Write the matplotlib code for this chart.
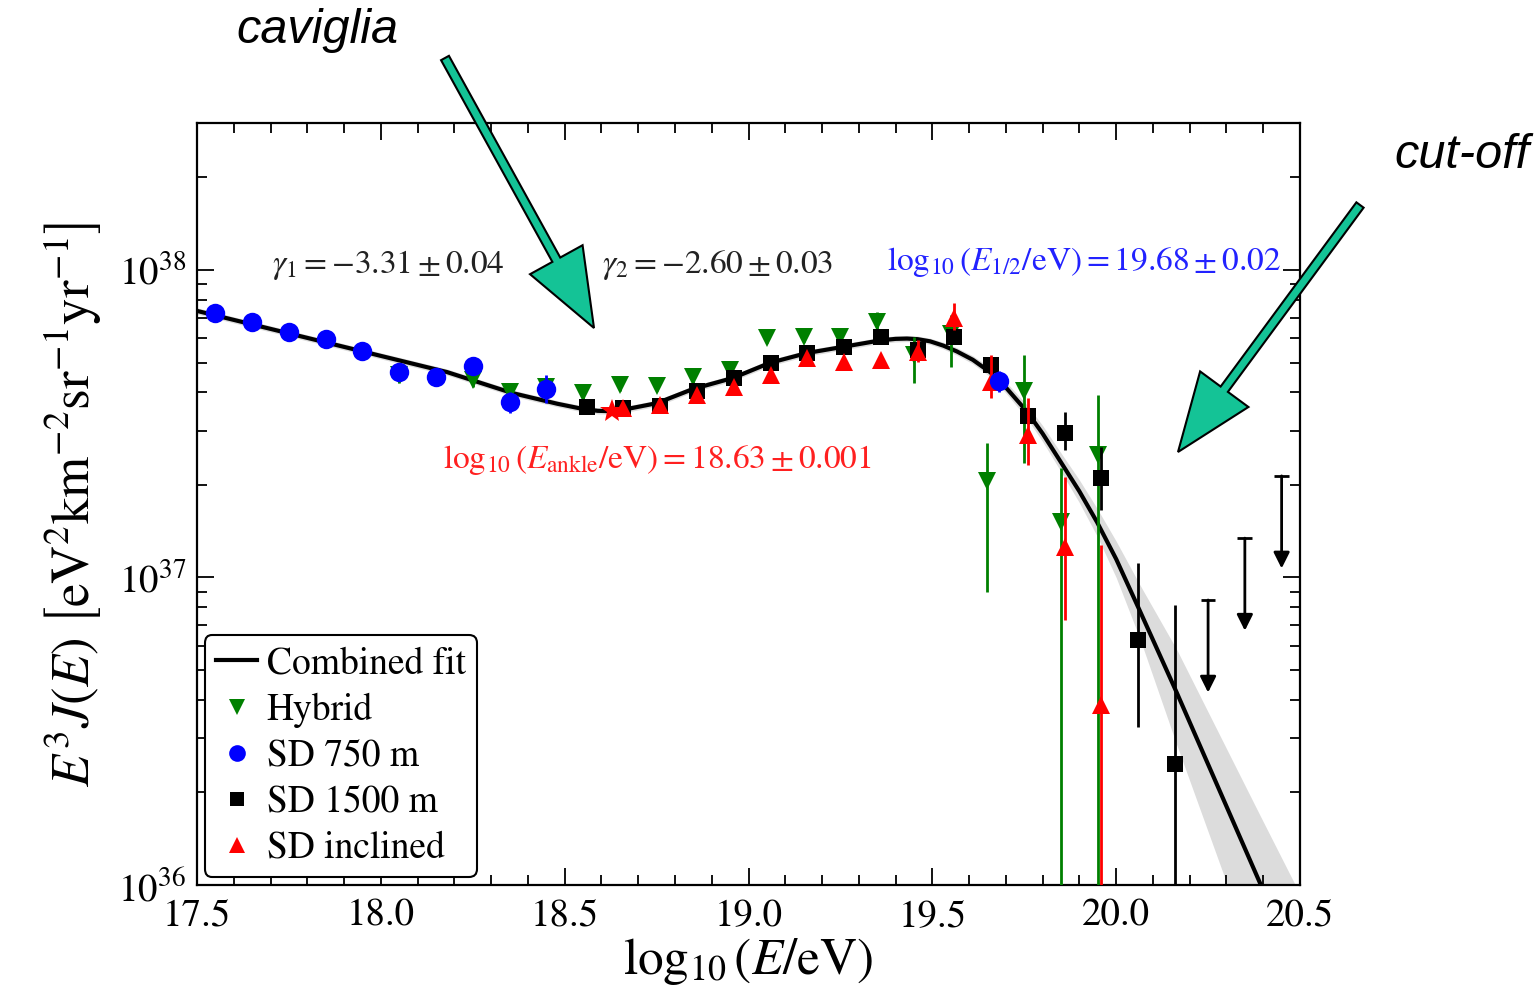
import numpy as np
import matplotlib
matplotlib.use("Agg")
import matplotlib.pyplot as plt
from matplotlib.lines import Line2D
from matplotlib.patches import FancyArrow
from matplotlib.ticker import FormatStrFormatter, MultipleLocator, LogLocator

plt.rcParams['font.family'] = ['STIXGeneral', 'DejaVu Serif']
plt.rcParams['mathtext.fontset'] = 'stix'

# ---------------- data (flux values in units of 1e37 eV^2 km^-2 sr^-1 yr^-1) ----------------
hyb_x = [18.05, 18.25, 18.35, 18.45, 18.55, 18.65, 18.75, 18.85, 18.95, 19.05, 19.15, 19.25,
         19.35, 19.45, 19.55, 19.65, 19.75, 19.85, 19.95]
hyb_v = [4.55, 4.39, 4.01, 4.17, 3.98, 4.23, 4.20, 4.49, 4.73, 6.01, 6.06, 6.06,
         6.78, 5.29, 6.19, 2.06, 4.04, 1.515, 2.50]
hyb_lo = [4.30, 4.15, 3.80, 3.97, 3.80, 4.05, 4.03, 4.30, 4.52, 5.80, 5.85, 5.85,
          6.28, 4.29, 4.84, 0.897, 2.36, 0.05, 0.05]
hyb_hi = [4.80, 4.62, 4.22, 4.38, 4.16, 4.42, 4.38, 4.70, 4.95, 6.25, 6.30, 6.30,
          7.30, 6.06, 7.14, 2.737, 5.29, 2.27, 3.92]

sd750_x = [17.55, 17.65, 17.75, 17.85, 17.95, 18.05, 18.15, 18.25, 18.35, 18.45, 19.68]
sd750_v = [7.24, 6.78, 6.28, 5.97, 5.45, 4.66, 4.49, 4.87, 3.72, 4.10, 4.36]
sd750_lo = [7.10, 6.65, 6.15, 5.85, 5.33, 4.40, 4.35, 4.70, 3.42, 3.69, 4.00]
sd750_hi = [7.40, 6.90, 6.40, 6.10, 5.57, 4.82, 4.63, 5.05, 4.00, 4.55, 4.70]

sd1500_x = [18.56, 18.66, 18.76, 18.86, 18.96, 19.06, 19.16, 19.26, 19.36, 19.46, 19.56,
            19.66, 19.76, 19.86, 19.96, 20.06, 20.16]
sd1500_v = [3.58, 3.56, 3.61, 4.04, 4.45, 4.98, 5.37, 5.62, 6.06, 5.50, 6.06,
            4.91, 3.35, 2.95, 2.11, 0.626, 0.247]
sd1500_lo = [3.52, 3.50, 3.54, 3.96, 4.37, 4.89, 5.27, 5.50, 5.92, 5.30, 5.85,
             4.62, 3.15, 2.60, 1.66, 0.327, 0.05]
sd1500_hi = [3.64, 3.62, 3.68, 4.12, 4.53, 5.07, 5.47, 5.74, 6.20, 5.70, 6.27,
             5.21, 3.55, 3.45, 2.66, 1.115, 0.814]

ul_x = [20.25, 20.35, 20.45]
ul_v = [0.845, 1.343, 2.14]

incl_x = [18.66, 18.76, 18.86, 18.96, 19.06, 19.16, 19.26, 19.36, 19.46, 19.56,
          19.66, 19.76, 19.86, 19.96]
incl_v = [3.56, 3.64, 3.92, 4.17, 4.55, 5.17, 5.02, 5.09, 5.41, 6.98,
          4.32, 2.90, 1.257, 0.385]
incl_lo = [3.46, 3.54, 3.81, 4.05, 4.42, 5.02, 4.87, 4.93, 5.01, 6.40,
           3.83, 2.32, 0.728, 0.05]
incl_hi = [3.66, 3.74, 4.03, 4.29, 4.68, 5.32, 5.17, 5.25, 5.92, 7.81,
           5.29, 3.83, 2.12, 1.275]

ankle_x = 18.63
ankle_v = 3.48

# combined fit (log10 E, log10 E^3J)
fit_logE = [17.50, 18.18, 18.357, 18.48, 18.55, 18.59, 18.623, 18.67, 18.751, 18.849, 18.958,
            19.058, 19.159, 19.257, 19.358, 19.40, 19.431, 19.46, 19.494, 19.53, 19.567,
            19.61, 19.657, 19.70, 19.757, 19.80, 19.847, 19.90, 19.948, 20.00, 20.065,
            20.165, 20.391, 20.50]
fit_logv = [37.867, 37.668, 37.600, 37.565, 37.548, 37.542, 37.541, 37.548, 37.567, 37.613, 37.649,
            37.698, 37.730, 37.750, 37.771, 37.776, 37.777, 37.775, 37.768, 37.754, 37.735,
            37.708, 37.668, 37.618, 37.540, 37.468, 37.380, 37.280, 37.180, 37.060, 36.890,
            36.625, 36.007, 35.71]
band_dn = [0.010, 0.010, 0.010, 0.010, 0.010, 0.010, 0.010, 0.010, 0.010, 0.010, 0.010,
           0.010, 0.010, 0.010, 0.010, 0.010, 0.010, 0.010, 0.010, 0.011, 0.012,
           0.013, 0.015, 0.018, 0.022, 0.026, 0.030, 0.037, 0.045, 0.060, 0.090,
           0.170, 0.300, 0.36]
band_up = [0.010, 0.010, 0.010, 0.010, 0.010, 0.010, 0.010, 0.010, 0.010, 0.010, 0.010,
           0.010, 0.010, 0.010, 0.010, 0.010, 0.010, 0.010, 0.010, 0.011, 0.012,
           0.013, 0.015, 0.018, 0.022, 0.026, 0.030, 0.037, 0.045, 0.058, 0.085,
           0.140, 0.220, 0.26]

x_ticks = [17.5, 18.0, 18.5, 19.0, 19.5, 20.0, 20.5]

# ---------------- figure ----------------
W, H = 1539, 996
fig = plt.figure(figsize=(W / 100, H / 100), dpi=100)
ax = fig.add_axes([197 / W, 1 - 885 / H, 1103 / W, 762 / H])

S = 1e37
fx = np.array(fit_logE)
fv = 10 ** np.array(fit_logv)
ax.fill_between(fx, 10 ** (np.array(fit_logv) - np.array(band_dn)),
                10 ** (np.array(fit_logv) + np.array(band_up)),
                color='#dcdcdc', lw=0, zorder=1)
ax.plot(fx, fv, color='black', lw=3.0, zorder=2, solid_joinstyle='round')


def eb(x, v, lo, hi, fmt, color, ms, z):
    v = np.array(v) * S
    lo = np.array(lo) * S
    hi = np.array(hi) * S
    ax.errorbar(x, v, yerr=[v - lo, hi - v], fmt=fmt, color=color, ms=ms,
                elinewidth=2.0, capsize=0, mew=0, zorder=z)


eb(hyb_x, hyb_v, hyb_lo, hyb_hi, 'v', 'green', 13, 3)
eb(sd1500_x, sd1500_v, sd1500_lo, sd1500_hi, 's', 'black', 11, 4)
eb(incl_x, incl_v, incl_lo, incl_hi, '^', 'red', 13, 5)
eb(sd750_x, sd750_v, sd750_lo, sd750_hi, 'o', 'blue', 14, 6)
ax.plot([ankle_x], [ankle_v * S], marker='*', color='red', ms=18, mew=0, zorder=7)

# upper limits
for x, v in zip(ul_x, ul_v):
    top = v * S
    ax.annotate('', xy=(x, top / 2.0), xytext=(x, top),
                arrowprops=dict(arrowstyle='-|>', color='black', lw=2.0,
                                mutation_scale=24, shrinkA=0, shrinkB=0),
                zorder=4)
    ax.errorbar([x], [top], xerr=[[0.02], [0.02]], fmt='none', ecolor='black',
                elinewidth=2.0, capsize=0, zorder=4)

ax.set_yscale('log')
ax.set_xlim(17.5, 20.5)
ax.set_ylim(1e36, 10 ** 38.478)
ax.set_xticks(x_ticks)
ax.xaxis.set_major_formatter(FormatStrFormatter('%.1f'))
ax.xaxis.set_minor_locator(MultipleLocator(0.1))
ax.yaxis.set_major_locator(LogLocator(base=10, numticks=10))
ax.yaxis.set_minor_locator(LogLocator(base=10, subs=np.arange(2, 10), numticks=20))
ax.tick_params(which='both', direction='in', top=True, right=True, labelsize=28, width=1.3)
ax.tick_params(which='major', length=12)
ax.tick_params(which='minor', length=7)
ax.tick_params(axis='x', pad=10)
ax.tick_params(axis='y', pad=8)
for sp in ax.spines.values():
    sp.set_linewidth(1.6)

ax.set_xlabel(r'$\log_{10}(E/\mathrm{eV})$', fontsize=37, labelpad=2)
ax.set_ylabel(r'$E^3J(E)\ \left[\mathrm{eV^2km^{-2}sr^{-1}yr^{-1}}\right]$', fontsize=38, labelpad=10)

ax.text((388 - 197) / 1103, (885 - 265) / 762, r'$\gamma_1 = -3.31 \pm 0.04$',
        transform=ax.transAxes, ha='center', va='center', fontsize=24, color='#222222')
ax.text((718 - 197) / 1103, (885 - 265) / 762, r'$\gamma_2 = -2.60 \pm 0.03$',
        transform=ax.transAxes, ha='center', va='center', fontsize=24, color='#222222')
ax.text((1084 - 197) / 1103, (885 - 262) / 762, r'$\log_{10}(E_{1/2}/\mathrm{eV}) = 19.68 \pm 0.02$',
        transform=ax.transAxes, ha='center', va='center', fontsize=24, color='#2222ff')
ax.text((657 - 197) / 1103, (885 - 460) / 762, r'$\log_{10}(E_{\mathrm{ankle}}/\mathrm{eV}) = 18.63 \pm 0.001$',
        transform=ax.transAxes, ha='center', va='center', fontsize=24, color='#ff2020')

handles = [Line2D([], [], color='black', lw=3),
           Line2D([], [], color='green', marker='v', ls='none', ms=12, mew=0),
           Line2D([], [], color='blue', marker='o', ls='none', ms=12, mew=0),
           Line2D([], [], color='black', marker='s', ls='none', ms=10, mew=0),
           Line2D([], [], color='red', marker='^', ls='none', ms=12, mew=0)]
labels = ['Combined fit', 'Hybrid', 'SD 750 m', 'SD 1500 m', 'SD inclined']
leg = ax.legend(handles, labels, loc='lower left', bbox_to_anchor=(0.007, 0.0105),
                borderaxespad=0, fontsize=27, handlelength=1.1, handletextpad=0.25,
                labelspacing=0.3, borderpad=0.3, fancybox=True, framealpha=1,
                edgecolor='black')
leg.get_frame().set_linewidth(1.5)

# ---------------- annotations outside the plot ----------------
ov = fig.add_axes([0, 0, 1, 1], zorder=10)
ov.set_xlim(0, W)
ov.set_ylim(H, 0)
ov.axis('off')
ov.patch.set_alpha(0)

teal = '#14C396'
for (x0, y0, x1, y1) in [(445, 58, 594, 328), (1360, 205, 1178, 452)]:
    ov.add_patch(FancyArrow(x0, y0, x1 - x0, y1 - y0, width=9, head_width=60,
                            head_length=78, length_includes_head=True,
                            facecolor=teal, edgecolor='black', lw=1.5))

ov.text(317, 30, 'caviglia', ha='center', va='center', fontsize=35, style='italic',
        family=['Liberation Sans', 'DejaVu Sans'])
ov.text(1462, 155, 'cut-off', ha='center', va='center', fontsize=35, style='italic',
        family=['Liberation Sans', 'DejaVu Sans'])

fig.savefig('out.png', dpi=100)
